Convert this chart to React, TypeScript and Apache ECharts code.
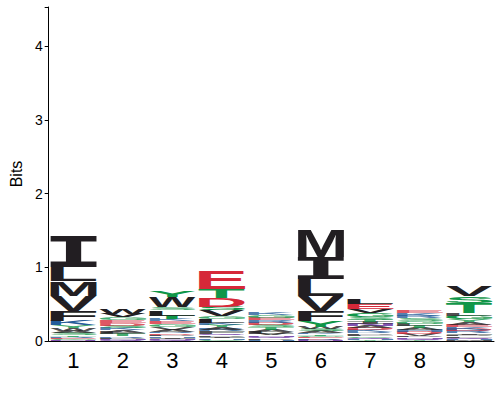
import React, { useEffect, useRef } from 'react';
import * as echarts from 'echarts';

const positions = ['1', '2', '3', '4', '5', '6', '7', '8', '9'];
const yTicks = [0, 1, 2, 3, 4];
const yMax = 4.53;

// letters of each column listed top -> bottom, with their heights in bits
const col1Letters = ['I', 'L', 'M', 'V', 'F', 'K', 'Y', 'W', 'A', 'S', 'T', 'R', 'E', 'G', 'N'];
const col1Bits = [0.42, 0.19, 0.2, 0.2, 0.135, 0.06, 0.04, 0.04, 0.03, 0.025, 0.02, 0.02, 0.015, 0.015, 0.01];
const col2Letters = ['W', 'V', 'G', 'E', 'D', 'S', 'K', 'A', 'L', 'T', 'R', 'P', 'N', 'Q'];
const col2Bits = [0.07, 0.05, 0.04, 0.04, 0.03, 0.035, 0.03, 0.03, 0.025, 0.025, 0.02, 0.02, 0.015, 0.01];
const col3Letters = ['Y', 'W', 'S', 'L', 'T', 'K', 'E', 'G', 'V', 'A', 'R', 'D', 'P', 'H', 'I', 'N', 'Q'];
const col3Bits = [0.09, 0.14, 0.04, 0.07, 0.05, 0.03, 0.03, 0.04, 0.04, 0.03, 0.02, 0.02, 0.02, 0.02, 0.02, 0.015, 0.01];
const col4Letters = ['E', 'T', 'D', 'S', 'V', 'G', 'L', 'K', 'Y', 'A', 'R', 'F', 'Q', 'P', 'I', 'H', 'C'];
const col4Bits = [0.24, 0.12, 0.12, 0.05, 0.08, 0.04, 0.05, 0.03, 0.03, 0.03, 0.025, 0.03, 0.02, 0.02, 0.02, 0.02, 0.02];
const col5Letters = ['K', 'G', 'E', 'R', 'D', 'S', 'T', 'A', 'L', 'V', 'N', 'Q', 'P', 'H'];
const col5Bits = [0.04, 0.035, 0.035, 0.03, 0.03, 0.035, 0.03, 0.03, 0.025, 0.025, 0.02, 0.02, 0.02, 0.015];
const col6Letters = ['M', 'I', 'L', 'V', 'F', 'Y', 'W', 'S', 'A', 'K', 'T', 'G', 'E', 'R', 'D', 'N'];
const col6Bits = [0.36, 0.3, 0.23, 0.2, 0.135, 0.08, 0.03, 0.025, 0.025, 0.02, 0.02, 0.02, 0.015, 0.015, 0.01, 0.01];
const col7Letters = ['L', 'E', 'V', 'G', 'S', 'T', 'I', 'N', 'A', 'D', 'K', 'R', 'P', 'F', 'C', 'Q', 'H', 'Y'];
const col7Bits = [0.07, 0.07, 0.05, 0.055, 0.04, 0.035, 0.03, 0.025, 0.025, 0.025, 0.025, 0.02, 0.02, 0.02, 0.02, 0.015, 0.015, 0.015];
const col8Letters = ['E', 'K', 'R', 'S', 'G', 'L', 'T', 'A', 'H', 'D', 'V', 'P', 'N', 'Q', 'Y'];
const col8Bits = [0.04, 0.04, 0.035, 0.035, 0.035, 0.03, 0.03, 0.03, 0.025, 0.025, 0.025, 0.02, 0.02, 0.015, 0.015];
const col9Letters = ['V', 'S', 'T', 'L', 'G', 'Y', 'A', 'E', 'K', 'D', 'R', 'I', 'P', 'F', 'Q', 'H', 'M'];
const col9Bits = [0.136, 0.095, 0.136, 0.04, 0.045, 0.04, 0.035, 0.035, 0.03, 0.025, 0.025, 0.02, 0.02, 0.02, 0.015, 0.015, 0.015];

const columnLetters = [col1Letters, col2Letters, col3Letters, col4Letters, col5Letters, col6Letters, col7Letters, col8Letters, col9Letters];
const columnBits = [col1Bits, col2Bits, col3Bits, col4Bits, col5Bits, col6Bits, col7Bits, col8Bits, col9Bits];

const polarLetters = ['G', 'S', 'T', 'Y', 'C'];
const neutralLetters = ['N', 'Q'];
const basicLetters = ['K', 'R', 'H'];
const acidicLetters = ['D', 'E'];

function letterColor(l: string): string {
  if (polarLetters.includes(l)) return '#109648';
  if (neutralLetters.includes(l)) return '#5E239D';
  if (basicLetters.includes(l)) return '#255C99';
  if (acidicLetters.includes(l)) return '#D62839';
  return '#221E22';
}

function letterFont(l: string): string {
  if (l === 'I') return 'bold 100px "DejaVu Sans Mono"';
  return 'bold 100px "Liberation Sans"';
}

// offset (at 100px) between canvas "middle" and SVG "central" baselines
function baselineCorrection(l: string): number {
  return l === 'I' ? 8.6 : 7.2;
}

const glyphCache: Record<string, { l: number; r: number; a: number; d: number }> = {};
function glyphBox(l: string) {
  if (glyphCache[l]) return glyphCache[l];
  const c = document.createElement('canvas');
  const ctx = c.getContext('2d')!;
  ctx.font = letterFont(l);
  ctx.textAlign = 'center';
  ctx.textBaseline = 'middle';
  const m = ctx.measureText(l);
  const box = {
    l: m.actualBoundingBoxLeft,
    r: m.actualBoundingBoxRight,
    a: m.actualBoundingBoxAscent,
    d: m.actualBoundingBoxDescent,
  };
  glyphCache[l] = box;
  return box;
}

const alphabet: string[] = [];
const stackData: number[][] = [];
columnLetters.forEach((letters, ci) => {
  const bits = columnBits[ci];
  let base = 0;
  for (let i = letters.length - 1; i >= 0; i--) {
    const l = letters[i];
    let li = alphabet.indexOf(l);
    if (li < 0) {
      alphabet.push(l);
      li = alphabet.length - 1;
    }
    stackData.push([ci, base, base + bits[i], li]);
    base += bits[i];
  }
});

export default function App() {
  const ref = useRef<HTMLDivElement>(null);
  useEffect(() => {
    document.body.style.margin = '0';
    const chart = echarts.init(ref.current!, null, { renderer: 'svg' });
    chart.setOption({
      animation: false,
      grid: { left: 44, right: 6, top: 7, bottom: 59 },
      xAxis: {
        type: 'category',
        data: positions,
        boundaryGap: true,
        axisLine: { lineStyle: { color: '#000', width: 1 } },
        axisTick: { alignWithLabel: true, length: 4, lineStyle: { color: '#000' } },
        axisLabel: { fontSize: 22, color: '#000', margin: 8, fontFamily: 'Liberation Sans' },
        splitLine: { show: false },
      },
      yAxis: {
        type: 'value',
        min: 0,
        max: yMax,
        interval: 1,
        name: 'Bits',
        nameLocation: 'middle',
        nameGap: 22,
        nameRotate: 90,
        nameTextStyle: { fontSize: 16, color: '#000', fontFamily: 'Liberation Sans' },
        axisLine: { show: true, lineStyle: { color: '#000', width: 1 } },
        axisTick: { show: true, length: 4, lineStyle: { color: '#000' } },
        axisLabel: {
          fontSize: 14,
          color: '#000',
          margin: 6,
          fontFamily: 'Liberation Sans',
          formatter: (v: number) => (yTicks.includes(v) ? String(v) : ''),
        },
        splitLine: { show: false },
      },
      series: [
        {
          type: 'custom',
          dimensions: ['pos', 'y0', 'y1', 'letter'],
          encode: { x: 0, y: [1, 2] },
          data: stackData,
          silent: true,
          renderItem: (params: any, api: any) => {
            const xi = api.value(0);
            const y0 = api.value(1);
            const y1 = api.value(2);
            const letter = alphabet[api.value(3)];
            const bottom = api.coord([xi, y0]);
            const top = api.coord([xi, y1]);
            const bw = api.size([1, 0])[0] * 0.94;
            const h = bottom[1] - top[1];
            if (h < 0.4) return null;
            const g = glyphBox(letter);
            const sx = bw / (g.l + g.r);
            const sy = h / (g.a + g.d);
            const left = top[0] - bw / 2;
            return {
              type: 'text',
              x: left + g.l * sx,
              y: top[1] + (g.a - baselineCorrection(letter)) * sy,
              scaleX: sx,
              scaleY: sy,
              silent: true,
              style: {
                text: letter,
                font: letterFont(letter),
                fill: letterColor(letter),
                opacity: h < 3 ? 0.8 : 1,
                align: 'center',
                verticalAlign: 'middle',
              },
            };
          },
        },
      ],
    });
    return () => chart.dispose();
  }, []);
  return <div ref={ref} style={{ width: 500, height: 400 }} />;
}
